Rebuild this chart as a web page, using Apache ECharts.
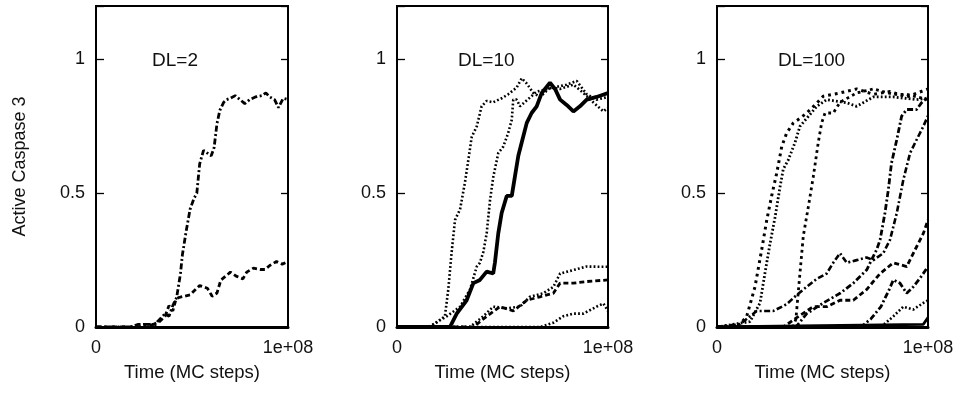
<!DOCTYPE html>
<html>
<head>
<meta charset="utf-8">
<script src="https://cdn.jsdelivr.net/npm/echarts@6/dist/echarts.min.js"></script>
<style>
html,body{margin:0;padding:0;background:#fff;}
#c{width:962px;height:393px;}
</style>
</head>
<body>
<div id="c"></div>
<script>
// time in units of 1e6 MC steps; value = active caspase 3 fraction
const panelTitles = ['DL=2', 'DL=10', 'DL=100'];
const xTickLabels = {0: '0', 100: '1e+08'};
const yTickValues = [0, 0.5, 1];

// DL=2
const dl2_a = [[0,0],[18,0],[22,0.01],[28,0.01],[30,0],[32,0.02],[36,0.05],[38,0.04],[40,0.08],[42,0.11],[44,0.2],[45,0.27],[47,0.36],[49,0.44],[51,0.48],[52.5,0.5],[54,0.61],[56,0.66],[58,0.65],[60,0.64],[61.5,0.67],[63,0.76],[64.5,0.81],[66.5,0.84],[68,0.85],[70,0.855],[72.5,0.865],[75,0.85],[77.5,0.835],[80,0.85],[83,0.86],[86.5,0.865],[88.5,0.875],[90.5,0.86],[93,0.85],[95,0.82],[97.5,0.855],[100,0.85]];
const dl2_b = [[0,0],[22,0],[26,0.01],[30,0.01],[33,0.02],[36,0.04],[38,0.08],[40,0.06],[41.5,0.1],[43,0.11],[46,0.115],[49,0.12],[54,0.155],[58,0.145],[60.5,0.115],[63,0.127],[65,0.175],[70,0.205],[73,0.19],[76.5,0.18],[78.5,0.205],[82,0.22],[85.5,0.215],[88,0.215],[90.5,0.23],[94,0.245],[97,0.235],[100,0.245]];

// DL=10
const dl10_a = [[0,0],[15.6,0],[22.7,0.04],[24.3,0.14],[25.9,0.28],[27.5,0.4],[29.9,0.44],[32.2,0.54],[34.1,0.64],[35.4,0.71],[37.8,0.75],[40.1,0.825],[42.5,0.845],[45.6,0.84],[49.6,0.855],[52.7,0.87],[56.7,0.895],[59.1,0.93],[61.5,0.91],[64.6,0.875],[67.8,0.86],[72.5,0.895],[77.3,0.89],[83.6,0.906],[88.3,0.875],[93,0.84],[97.8,0.806],[100,0.82]];
const dl10_b = [[0,0],[15,0],[23.6,0.04],[29.9,0.076],[34.6,0.14],[37.8,0.226],[39.3,0.24],[40.9,0.28],[42.5,0.35],[44.1,0.475],[45.6,0.56],[48,0.65],[50.4,0.675],[52.7,0.725],[54.4,0.775],[55.1,0.85],[56.7,0.85],[58.3,0.825],[66.2,0.88],[74.1,0.895],[80.4,0.906],[85.2,0.92],[89.9,0.87],[94.6,0.85],[100,0.86]];
const dl10_c = [[0,0],[25.1,0],[28.3,0.05],[33,0.1],[36.2,0.164],[39.3,0.176],[42.5,0.207],[45.6,0.2],[46.4,0.24],[48,0.35],[49.6,0.426],[52,0.49],[54.4,0.49],[55.9,0.563],[57.5,0.64],[59.1,0.69],[61.5,0.763],[63.8,0.8],[66.2,0.825],[68.6,0.875],[72.5,0.913],[74.9,0.89],[77.3,0.85],[80.4,0.83],[83.6,0.806],[86.7,0.825],[89.9,0.85],[94.6,0.86],[100,0.875]];
const dl10_d = [[0,0],[34.6,0],[40.9,0.04],[45.6,0.076],[52,0.07],[58.3,0.076],[63,0.113],[69.3,0.126],[74.1,0.15],[77.3,0.2],[83.6,0.213],[89.9,0.226],[100,0.225]];
const dl10_e = [[0,0],[36.2,0],[42.5,0.04],[48.8,0.076],[55.1,0.06],[61.5,0.1],[67.8,0.113],[74.1,0.126],[77.3,0.164],[83.6,0.164],[89.9,0.17],[100,0.176]];
const dl10_f = [[0,0],[67.8,0],[74.1,0.016],[78.8,0.04],[83.6,0.05],[88.3,0.05],[94.6,0.076],[97.8,0.088],[100,0.06]];

// DL=100
const dl100_a = [[0,0],[10.9,0.01],[14.1,0.04],[18,0.15],[21.2,0.29],[23.6,0.4],[25.9,0.49],[28.3,0.575],[30.7,0.675],[33,0.725],[36.2,0.763],[39.3,0.78],[42.5,0.8],[46.4,0.83],[50.4,0.863],[58.3,0.875],[66.2,0.89],[74.1,0.87],[82,0.88],[89.9,0.86],[100,0.89]];
const dl100_b = [[0,0],[15.6,0.02],[20.4,0.09],[22.7,0.2],[25.1,0.31],[27.5,0.41],[29.9,0.525],[31.4,0.59],[33.8,0.625],[37,0.69],[39.3,0.75],[42.5,0.78],[47.3,0.825],[52,0.85],[61.5,0.838],[66.2,0.825],[74.1,0.86],[83.6,0.86],[94.6,0.85],[100,0.855]];
const dl100_c = [[0,0],[36,0],[37.4,0.03],[39.3,0.2],[40.9,0.34],[43.3,0.45],[45.6,0.56],[48,0.69],[49.6,0.763],[51.2,0.8],[55.1,0.8],[58.3,0.84],[66.2,0.875],[74.1,0.89],[83.6,0.87],[89.9,0.87],[100,0.85]];
const dl100_d = [[0,0],[10.9,0.01],[18.8,0.06],[26.7,0.06],[33,0.085],[37.8,0.12],[42.5,0.15],[47.3,0.18],[52,0.2],[55.1,0.24],[58.3,0.276],[61.5,0.24],[66.2,0.25],[70.9,0.26],[74.1,0.25],[78.8,0.276],[82,0.326],[85.2,0.426],[88.3,0.55],[91.5,0.65],[94.6,0.7],[97.8,0.75],[100,0.79]];
const dl100_e = [[0,0],[37.4,0],[42.5,0.05],[50.4,0.09],[58.3,0.126],[64.6,0.164],[70.9,0.213],[75.7,0.29],[77.3,0.326],[79.6,0.426],[81.2,0.513],[82.7,0.613],[85.2,0.7],[87.5,0.788],[89.9,0.813],[94.6,0.813],[96.9,0.838],[100,0.86]];
const dl100_f = [[0,0],[31.4,0],[37.8,0.035],[45.6,0.076],[52,0.076],[58.3,0.1],[64.6,0.1],[70.9,0.14],[77.3,0.2],[83.6,0.24],[89.9,0.226],[94.6,0.3],[97.8,0.35],[100,0.4]];
const dl100_g = [[0,0],[68.2,0],[72.9,0.03],[77.7,0.076],[81.6,0.14],[83.6,0.176],[86.7,0.164],[89.9,0.126],[93,0.15],[96.9,0.19],[100,0.226]];
const dl100_h = [[0,0],[77.7,0],[83.6,0.04],[88.3,0.076],[93,0.065],[97.8,0.09],[100,0.1]];
const dl100_i = [[0,0],[97.8,0.01],[100,0.035]];

const DOT = [1.8, 2.2], DASH = [5, 3], DASHDOT = [6, 2.5, 2, 2.5], SOLID = 'solid';
const panels = [
  {curves: [[dl2_a, DASHDOT, 2.8], [dl2_b, DASH, 2.8]]},
  {curves: [[dl10_a, DOT, 2.6], [dl10_b, DOT, 2.6], [dl10_c, SOLID, 3.8], [dl10_d, DOT, 2.6], [dl10_e, DASH, 2.8], [dl10_f, DOT, 2.6]]},
  {curves: [[dl100_a, [2.8, 4], 3], [dl100_b, DOT, 2.8], [dl100_c, [2.8, 3.5], 2.8], [dl100_d, DASHDOT, 2.6], [dl100_e, DASHDOT, 2.8], [dl100_f, DASH, 2.8], [dl100_g, DASHDOT, 2.8], [dl100_h, DOT, 2.6], [dl100_i, SOLID, 2.8]]}
];

const FONT = 'Liberation Sans';
const TXT = '#111';
const gridPos = [{left: 96, width: 192}, {left: 397, width: 211}, {left: 717, width: 211}];
const grid = [], xAxis = [], yAxis = [], series = [], graphic = [];
const titlePos = [152, 458, 778];

gridPos.forEach((g, i) => {
  grid.push({left: g.left, width: g.width, top: 6, height: 321, show: true, borderColor: '#000', borderWidth: 2, backgroundColor: 'transparent'});
  xAxis.push({
    gridIndex: i, type: 'value', min: 0, max: 100, interval: 100,
    axisLine: {show: true, onZero: false, lineStyle: {color: '#000', width: 3}},
    axisTick: {show: false}, splitLine: {show: false},
    axisLabel: {margin: 12, fontSize: 18, color: TXT, fontFamily: FONT, formatter: v => xTickLabels[v] !== undefined ? xTickLabels[v] : ''},
    name: 'Time (MC steps)', nameLocation: 'middle', nameGap: 36,
    nameTextStyle: {fontSize: 18.5, color: TXT, fontFamily: FONT}
  });
  const yl = {
    gridIndex: i, type: 'value', min: 0, max: 1.2, interval: 0.5,
    axisLine: {show: true, lineStyle: {color: '#000', width: 2}},
    axisTick: {show: true, inside: true, length: 8, lineStyle: {color: '#000', width: 1.3}},
    splitLine: {show: false},
    axisLabel: {margin: 11, fontSize: 18, color: TXT, fontFamily: FONT, formatter: v => yTickValues.some(t => Math.abs(t - v) < 1e-6) ? String(v) : ''}
  };
  if (i === 0) {
    yl.name = 'Active Caspase 3';
    yl.nameLocation = 'middle';
    yl.nameGap = 67;
    yl.nameTextStyle = {fontSize: 18, color: TXT, fontFamily: FONT};
  }
  yAxis.push(yl);
  yAxis.push({
    gridIndex: i, type: 'value', position: 'right', min: 0, max: 1.2, interval: 0.5,
    axisLine: {show: false},
    axisTick: {show: true, inside: true, length: 7, lineStyle: {color: '#000', width: 1.3}},
    splitLine: {show: false}, axisLabel: {show: false}
  });
  panels[i].curves.forEach(c => {
    series.push({
      type: 'line', xAxisIndex: i, yAxisIndex: 2 * i, data: c[0],
      showSymbol: false, symbol: 'none', smooth: false,
      lineStyle: {color: '#000', width: c[2], type: c[1]},
      z: 3
    });
  });
  graphic.push({type: 'text', left: titlePos[i], top: 51, style: {text: panelTitles[i], font: '19px "Liberation Sans"', fill: TXT}});
});

const chart = echarts.init(document.getElementById('c'), null, {renderer: 'canvas'});
chart.setOption({animation: false, grid, xAxis, yAxis, series, graphic});
</script>
</body>
</html>
